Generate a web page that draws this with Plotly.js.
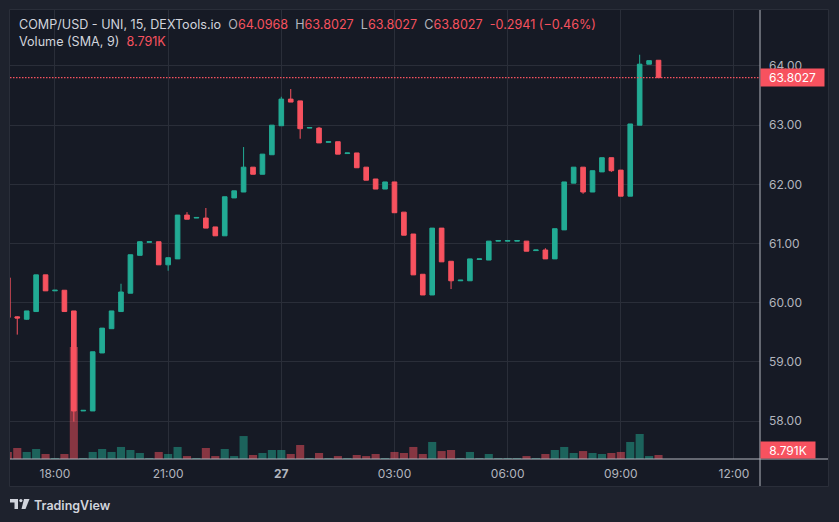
<!DOCTYPE html>
<html>
<head>
<meta charset="utf-8">
<script src="https://cdn.plot.ly/plotly-3.0.1.min.js"></script>
<style>html,body{margin:0;padding:0;background:#1e222d;}#chart{width:839px;height:522px;}</style>
</head>
<body>
<div id="chart"></div>
<script>
// 15-minute candles, 26th 16:45 -> 27th 10:00
const times = [
 '2024-04-26 16:45','2024-04-26 17:00','2024-04-26 17:15','2024-04-26 17:30','2024-04-26 17:45',
 '2024-04-26 18:00','2024-04-26 18:15','2024-04-26 18:30','2024-04-26 18:45','2024-04-26 19:00',
 '2024-04-26 19:15','2024-04-26 19:30','2024-04-26 19:45','2024-04-26 20:00','2024-04-26 20:15',
 '2024-04-26 20:30','2024-04-26 20:45','2024-04-26 21:00','2024-04-26 21:15','2024-04-26 21:30',
 '2024-04-26 21:45','2024-04-26 22:00','2024-04-26 22:15','2024-04-26 22:30','2024-04-26 22:45',
 '2024-04-26 23:00','2024-04-26 23:15','2024-04-26 23:30','2024-04-26 23:45',
 '2024-04-27 00:00','2024-04-27 00:15','2024-04-27 00:30','2024-04-27 00:45','2024-04-27 01:00',
 '2024-04-27 01:15','2024-04-27 01:30','2024-04-27 01:45','2024-04-27 02:00','2024-04-27 02:15',
 '2024-04-27 02:30','2024-04-27 02:45','2024-04-27 03:00','2024-04-27 03:15','2024-04-27 03:30',
 '2024-04-27 03:45','2024-04-27 04:00','2024-04-27 04:15','2024-04-27 04:30','2024-04-27 04:45',
 '2024-04-27 05:00','2024-04-27 05:15','2024-04-27 05:30','2024-04-27 05:45','2024-04-27 06:00',
 '2024-04-27 06:15','2024-04-27 06:30','2024-04-27 06:45','2024-04-27 07:00','2024-04-27 07:15',
 '2024-04-27 07:30','2024-04-27 07:45','2024-04-27 08:00','2024-04-27 08:15','2024-04-27 08:30',
 '2024-04-27 08:45','2024-04-27 09:00','2024-04-27 09:15','2024-04-27 09:30','2024-04-27 09:45',
 '2024-04-27 10:00'
];
const openP = [60.42,59.76,59.72,59.85,60.47,60.20,60.21,59.86,58.17,58.17,59.15,59.56,59.85,60.16,60.80,61.02,61.03,60.64,60.74,61.48,61.43,61.43,61.28,61.13,61.77,61.87,62.29,62.17,62.50,
 62.99,63.44,63.41,62.95,62.95,62.71,62.72,62.52,62.53,62.29,62.09,61.92,62.04,61.53,61.16,60.48,60.13,61.26,60.70,60.37,60.37,60.73,60.72,61.04,61.04,61.04,61.04,60.88,60.89,60.74,61.23,62.02,62.29,61.87,62.21,62.45,62.24,61.80,63.00,64.03,64.0968];
const highP = [60.42,59.77,59.86,60.47,60.47,60.21,60.21,59.86,58.18,59.17,59.57,59.86,60.32,60.81,61.04,61.03,61.03,60.76,61.48,61.53,61.44,61.60,61.28,61.79,61.89,62.63,62.29,62.51,63.00,
 63.48,63.61,63.41,62.96,62.97,62.72,62.72,62.53,62.53,62.29,62.09,62.04,62.04,61.53,61.16,60.48,61.26,61.26,60.70,60.38,60.74,60.74,61.04,61.05,61.05,61.05,61.04,60.89,60.92,61.25,62.04,62.29,62.29,62.23,62.45,62.45,62.24,63.02,64.19,64.09,64.0968];
const lowP = [59.75,59.46,59.71,59.85,60.20,60.20,59.85,57.99,58.17,58.17,59.15,59.56,59.85,60.16,60.80,61.02,60.64,60.54,60.74,61.41,61.43,61.26,61.13,61.13,61.77,61.87,62.17,62.17,62.50,
 62.99,63.39,62.77,62.95,62.70,62.71,62.51,62.52,62.28,62.07,61.92,61.92,61.52,61.14,60.47,60.13,60.13,60.69,60.23,60.37,60.37,60.73,60.72,61.04,61.04,61.04,60.87,60.88,60.74,60.74,61.23,62.02,61.84,61.87,62.21,62.21,61.80,61.80,63.00,64.03,63.8027];
const closeP = [59.75,59.74,59.86,60.47,60.20,60.21,59.85,58.17,58.18,59.17,59.57,59.86,60.18,60.81,61.03,61.03,60.64,60.76,61.48,61.41,61.44,61.26,61.13,61.79,61.89,62.29,62.17,62.51,63.00,
 63.44,63.39,62.94,62.96,62.70,62.72,62.51,62.53,62.28,62.07,61.92,62.04,61.52,61.14,60.47,60.13,61.26,60.69,60.37,60.38,60.74,60.74,61.04,61.05,61.05,61.05,60.87,60.89,60.74,61.25,62.04,62.29,61.87,62.23,62.45,62.23,61.80,63.02,64.03,64.09,63.8027];
const volumeK = [6.9,10.8,6.9,9.8,4.9,1.0,4.9,109.8,1.0,6.9,9.8,6.9,11.8,8.8,5.9,1.0,6.9,4.9,11.8,2.9,1.0,10.8,2.9,9.8,2.9,22.5,3.9,5.9,8.8,
 8.8,4.9,13.7,1.0,5.9,1.0,2.9,1.0,3.9,2.9,4.9,1.0,6.9,5.9,11.8,4.9,16.7,7.8,8.8,1.0,6.9,1.0,4.9,1.0,1.0,1.0,2.9,1.0,4.9,8.8,11.8,5.9,7.8,5.9,4.9,5.9,6.9,16.7,24.5,2.9,3.9];

const tickTimes = ['2024-04-26 18:00','2024-04-26 21:00','2024-04-27 00:00','2024-04-27 03:00','2024-04-27 06:00','2024-04-27 09:00','2024-04-27 12:00'];
const tickLabels = ['18:00','21:00','<b>27</b>','03:00','06:00','09:00','12:00'];
const priceTicks = [58,59,60,61,62,63,64];
const priceLabels = ['58.00','59.00','60.00','61.00','62.00','63.00','64.00'];
const lastPrice = 63.8027;
const volSMA = 8.791;

const UP = '#22ab94', DOWN = '#f7525f';
const UPV = 'rgba(34,171,148,0.5)', DOWNV = 'rgba(247,82,95,0.5)';
const FONT = 'Inter, "Noto Sans", sans-serif';

// pixel -> paper helpers (plot area 10..760 x, 10..459 y)
const L = 10, R = 760, T = 10, B = 459;
const px = x => (x - L) / (R - L);
const py = y => (B - y) / (B - T);

const volColors = closeP.map((c, i) => c >= openP[i] ? UPV : DOWNV);

const traces = [
  {
    type: 'bar', x: times, y: volumeK, xaxis: 'x', yaxis: 'y2',
    marker: {color: volColors, line: {width: 0}},
    width: 15 * 60 * 1000 * 0.86, hoverinfo: 'skip'
  },
  {
    type: 'candlestick', x: times, open: openP, high: highP, low: lowP, close: closeP,
    xaxis: 'x', yaxis: 'y', whiskerwidth: 0,
    increasing: {line: {color: UP, width: 1}, fillcolor: UP},
    decreasing: {line: {color: DOWN, width: 1}, fillcolor: DOWN},
    hoverinfo: 'skip'
  }
];

const G = '#b2b5be';
const headerText =
  '<span style="color:#d1d4dc">COMP/USD - UNI, 15, DEXTools.io</span>\u00a0\u00a0' +
  '<span style="color:' + G + '">O</span><span style="color:' + DOWN + '">64.0968</span>\u00a0\u00a0' +
  '<span style="color:' + G + '">H</span><span style="color:' + DOWN + '">63.8027</span>\u00a0\u00a0' +
  '<span style="color:' + G + '">L</span><span style="color:' + DOWN + '">63.8027</span>\u00a0\u00a0' +
  '<span style="color:' + G + '">C</span><span style="color:' + DOWN + '">63.8027</span>\u00a0\u00a0' +
  '<span style="color:' + DOWN + '">-0.2941 (\u22120.46%)</span>';
const volText = '<span style="color:#d1d4dc">Volume (SMA, 9)</span>\u00a0\u00a0<span style="color:' + DOWN + '">8.791K</span>';

const layout = {
  width: 839, height: 522,
  margin: {l: L, r: 839 - R, t: T, b: 522 - B, pad: 0},
  paper_bgcolor: '#1e222d',
  plot_bgcolor: 'rgba(0,0,0,0)',
  showlegend: false,
  font: {family: FONT, color: G, size: 12},
  xaxis: {
    type: 'date',
    range: ['2024-04-26 16:48:27', '2024-04-27 12:41:24'],
    tickvals: tickTimes, ticktext: tickLabels,
    showgrid: true, gridcolor: '#2a2e39', gridwidth: 1,
    zeroline: false, showline: false, ticks: '',
    ticklabelstandoff: 6,
    tickfont: {family: FONT, size: 12, color: G},
    rangeslider: {visible: false},
    fixedrange: true
  },
  yaxis: {
    side: 'right',
    range: [57.358, 64.946],
    tickvals: priceTicks, ticktext: priceLabels,
    showgrid: true, gridcolor: '#2a2e39', gridwidth: 1,
    zeroline: false, showline: false, ticks: '',
    ticklabelstandoff: 8,
    tickfont: {family: FONT, size: 12, color: G},
    fixedrange: true
  },
  yaxis2: {
    overlaying: 'y', range: [0, 440], visible: false, showgrid: false, zeroline: false, fixedrange: true
  },
  shapes: [
    {type: 'rect', xref: 'paper', yref: 'paper', layer: 'below',
     x0: px(9.5), x1: px(828.5), y0: py(486.5), y1: py(9.5),
     fillcolor: '#161a25', line: {color: '#2a2e39', width: 1}},
    {type: 'line', xref: 'paper', yref: 'paper', x0: px(10), x1: px(828), y0: py(459), y1: py(459),
     line: {color: '#b2b5be', width: 1}},
    {type: 'line', xref: 'paper', yref: 'paper', x0: px(760), x1: px(760), y0: py(10), y1: py(486),
     line: {color: '#b2b5be', width: 1}},
    {type: 'line', xref: 'paper', yref: 'y', x0: 0, x1: 1, y0: lastPrice, y1: lastPrice,
     line: {color: DOWN, width: 1.2, dash: '1.5px,1.5px'}},
    // TradingView logo
    {type: 'path', xref: 'paper', yref: 'paper', layer: 'above', line: {width: 0}, fillcolor: '#d1d4dc',
     path: 'M' + px(10) + ',' + py(499) + ' L' + px(18) + ',' + py(499) + ' L' + px(18) + ',' + py(509) +
           ' L' + px(14.5) + ',' + py(509) + ' L' + px(14.5) + ',' + py(502.5) + ' L' + px(10) + ',' + py(502.5) + ' Z'},
    {type: 'circle', xref: 'paper', yref: 'paper', line: {width: 0}, fillcolor: '#d1d4dc',
     x0: px(19.3), x1: px(22.5), y0: py(502.2), y1: py(499)},
    {type: 'path', xref: 'paper', yref: 'paper', line: {width: 0}, fillcolor: '#d1d4dc',
     path: 'M' + px(24) + ',' + py(499) + ' L' + px(29.5) + ',' + py(499) + ' L' + px(25.5) + ',' + py(509) +
           ' L' + px(21.5) + ',' + py(509) + ' Z'}
  ],
  annotations: [
    {xref: 'paper', yref: 'paper', x: px(17), y: py(25), xanchor: 'left', yanchor: 'middle',
     text: headerText, showarrow: false, font: {family: FONT, size: 12.6, color: G}},
    {xref: 'paper', yref: 'paper', x: px(17), y: py(42), xanchor: 'left', yanchor: 'middle',
     text: volText, showarrow: false, font: {family: FONT, size: 12.6, color: G}},
    {xref: 'paper', yref: 'y', x: 1, y: lastPrice, xanchor: 'left', yanchor: 'middle',
     text: '63.8027', showarrow: false, bgcolor: DOWN, borderpad: 2, width: 59, height: 13,
     align: 'center', font: {family: FONT, size: 12, color: '#ffffff'}},
    {xref: 'paper', yref: 'y2', x: 1, y: volSMA, xanchor: 'left', yanchor: 'middle',
     text: '8.791K', showarrow: false, bgcolor: DOWN, borderpad: 2, width: 50, height: 12,
     align: 'center', font: {family: FONT, size: 12, color: '#ffffff'}},
    {xref: 'paper', yref: 'paper', x: px(32), y: py(505), xanchor: 'left', yanchor: 'middle',
     text: 'TradingView', showarrow: false, font: {family: FONT, size: 12.5, color: '#d1d4dc', weight: 600}}
  ]
};

Plotly.newPlot('chart', traces, layout, {displayModeBar: false, staticPlot: true});
</script>
</body>
</html>
